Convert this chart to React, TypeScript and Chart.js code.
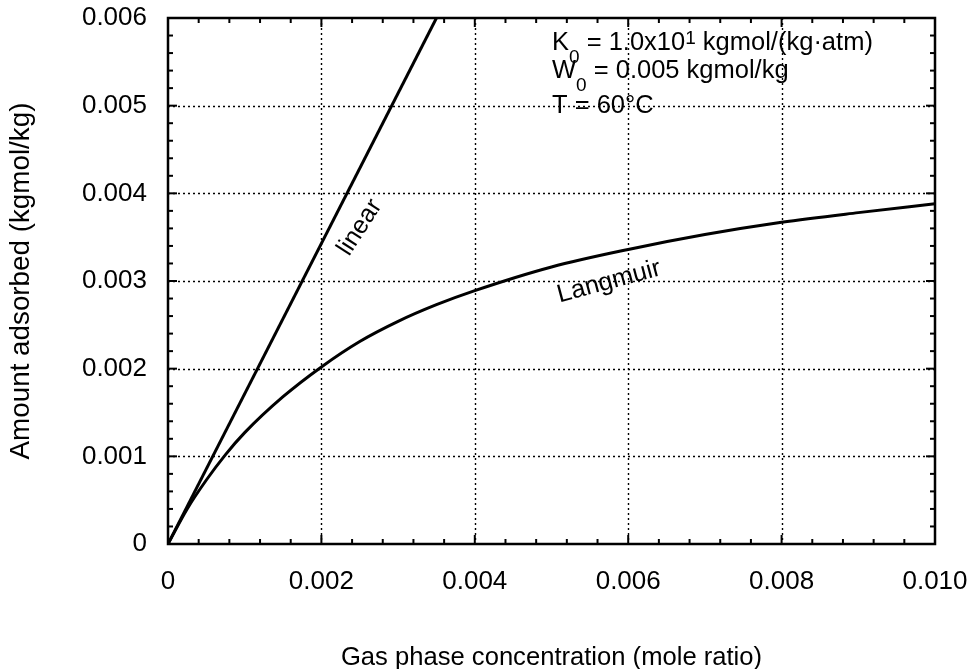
import React, { useEffect, useRef } from "react";
import { Chart, registerables } from "chart.js";

Chart.register(...registerables);

// ---- data ----
const LANGMUIR_X = [0, 0.00025, 0.0005, 0.00075, 0.001, 0.0015, 0.002, 0.0025, 0.003, 0.0035, 0.004, 0.005, 0.006, 0.007, 0.008, 0.009, 0.010];
const LANGMUIR_Y = [0, 0.0004, 0.00073, 0.00102, 0.00127, 0.00168, 0.00202, 0.00231, 0.00254, 0.00273, 0.00289, 0.00316, 0.00336, 0.00353, 0.00367, 0.00378, 0.00388];
const LINEAR_X = [0, 0.0035];
const LINEAR_Y = [0, 0.006];

const X_MIN = 0, X_MAX = 0.01, X_STEP = 0.002, X_MINOR = 0.0004;
const Y_MIN = 0, Y_MAX = 0.006, Y_STEP = 0.001, Y_MINOR = 0.0002;

const X_TITLE = "Gas phase concentration (mole ratio)";
const Y_TITLE = "Amount adsorbed (kgmol/kg)";
const FONT = '"Liberation Sans", Arial, Helvetica, sans-serif';

const fmt = (v: number) => (Math.abs(v) < 1e-12 ? "0" : v.toFixed(3));

const decorPlugin = {
  id: "decor",
  beforeDatasetsDraw(chart: any) {
    const { ctx, chartArea: a, scales } = chart;
    const x = scales.x, y = scales.y;
    ctx.save();
    ctx.strokeStyle = "#000";
    ctx.lineWidth = 1.4;
    ctx.setLineDash([2, 3]);
    const nx = Math.round((X_MAX - X_MIN) / X_STEP);
    for (let i = 1; i < nx; i++) {
      const px = Math.round(x.getPixelForValue(X_MIN + i * X_STEP)) + 0.5;
      ctx.beginPath(); ctx.moveTo(px, a.top); ctx.lineTo(px, a.bottom); ctx.stroke();
    }
    const ny = Math.round((Y_MAX - Y_MIN) / Y_STEP);
    for (let i = 1; i < ny; i++) {
      const py = Math.round(y.getPixelForValue(Y_MIN + i * Y_STEP)) + 0.5;
      ctx.beginPath(); ctx.moveTo(a.left, py); ctx.lineTo(a.right, py); ctx.stroke();
    }
    ctx.restore();
  },
  afterDatasetsDraw(chart: any) {
    const { ctx, chartArea: a, scales } = chart;
    const x = scales.x, y = scales.y;
    ctx.save();
    ctx.strokeStyle = "#000";
    ctx.setLineDash([]);
    ctx.lineWidth = 2.5;
    ctx.strokeRect(a.left, a.top, a.right - a.left, a.bottom - a.top);
    ctx.lineWidth = 2;
    const nxm = Math.round((X_MAX - X_MIN) / X_MINOR);
    const xPer = Math.round(X_STEP / X_MINOR);
    for (let i = 1; i < nxm; i++) {
      const px = x.getPixelForValue(X_MIN + i * X_MINOR);
      const len = i % xPer === 0 ? 9 : 5;
      ctx.beginPath(); ctx.moveTo(px, a.bottom); ctx.lineTo(px, a.bottom - len); ctx.stroke();
      ctx.beginPath(); ctx.moveTo(px, a.top); ctx.lineTo(px, a.top + len); ctx.stroke();
    }
    const nym = Math.round((Y_MAX - Y_MIN) / Y_MINOR);
    const yPer = Math.round(Y_STEP / Y_MINOR);
    for (let i = 1; i < nym; i++) {
      const py = y.getPixelForValue(Y_MIN + i * Y_MINOR);
      const len = i % yPer === 0 ? 9 : 5;
      ctx.beginPath(); ctx.moveTo(a.left, py); ctx.lineTo(a.left + len, py); ctx.stroke();
      ctx.beginPath(); ctx.moveTo(a.right, py); ctx.lineTo(a.right - len, py); ctx.stroke();
    }

    // annotation block
    ctx.fillStyle = "#000";
    ctx.textBaseline = "alphabetic";
    ctx.textAlign = "left";
    const big = `25.5px ${FONT}`;
    const small = `19px ${FONT}`;
    const runs = (parts: [string, string, number][], x0: number, y0: number) => {
      let cx = x0;
      for (const [t, f, dy] of parts) {
        ctx.font = f;
        ctx.fillText(t, cx, y0 + dy);
        cx += ctx.measureText(t).width;
      }
    };
    const ax = a.left + 384;
    runs([["K", big, 0], ["0", small, 13], [" = 1.0x10", big, 0], ["1", small, -6], [" kgmol/(kg\u00b7atm)", big, 0]], ax, a.top + 32);
    runs([["W", big, 0], ["0", small, 13], [" = 0.005 kgmol/kg", big, 0]], ax, a.top + 60);
    runs([["T = 60\u00b0C", big, 0]], ax, a.top + 95);

    // curve labels
    ctx.textAlign = "center";
    ctx.textBaseline = "middle";
    ctx.save();
    ctx.font = `25px ${FONT}`;
    ctx.translate(x.getPixelForValue(0.0025), y.getPixelForValue(0.00361));
    ctx.rotate(-57 * Math.PI / 180);
    ctx.fillText("linear", 0, 0);
    ctx.restore();
    ctx.save();
    ctx.font = `25.5px ${FONT}`;
    ctx.translate(x.getPixelForValue(0.00575), y.getPixelForValue(0.00299));
    ctx.rotate(-15 * Math.PI / 180);
    ctx.fillText("Langmuir", 0, 0);
    ctx.restore();
    ctx.restore();
  },
};

export default function App() {
  const ref = useRef<HTMLCanvasElement>(null);
  useEffect(() => {
    document.body.style.margin = "0";
    const canvas = ref.current!;
    const chart = new Chart(canvas, {
      type: "scatter",
      data: {
        datasets: [
          {
            label: "linear",
            data: LINEAR_X.map((v, i) => ({ x: v, y: LINEAR_Y[i] })),
            showLine: true,
            borderColor: "#000",
            borderWidth: 3,
            pointRadius: 0,
            tension: 0,
          },
          {
            label: "Langmuir",
            data: LANGMUIR_X.map((v, i) => ({ x: v, y: LANGMUIR_Y[i] })),
            showLine: true,
            borderColor: "#000",
            borderWidth: 3,
            pointRadius: 0,
            cubicInterpolationMode: "monotone",
          },
        ],
      },
      options: {
        responsive: false,
        animation: false,
        layout: { padding: { top: 18, right: 38, left: 0, bottom: 0 } },
        plugins: { legend: { display: false }, tooltip: { enabled: false } },
        scales: {
          x: {
            type: "linear",
            min: X_MIN,
            max: X_MAX,
            afterFit: (s: any) => { s.height = 125; s.paddingLeft = 0; s.paddingRight = 0; },
            grid: { display: false, drawTicks: false },
            border: { display: false },
            ticks: {
              stepSize: X_STEP,
              callback: (v: any) => fmt(Number(v)),
              color: "#000",
              font: { family: FONT, size: 26 },
              padding: 22,
              maxRotation: 0,
            },
            title: {
              display: true,
              text: X_TITLE,
              color: "#000",
              font: { family: FONT, size: 25.6 },
              padding: { top: 0, bottom: -4 },
            },
          },
          y: {
            type: "linear",
            min: Y_MIN,
            max: Y_MAX,
            afterFit: (s: any) => { s.width = 168; s.paddingTop = 0; s.paddingBottom = 0; },
            grid: { display: false, drawTicks: false },
            border: { display: false },
            ticks: {
              stepSize: Y_STEP,
              callback: (v: any) => fmt(Number(v)),
              color: "#000",
              font: { family: FONT, size: 26 },
              padding: 21,
            },
            title: {
              display: true,
              text: Y_TITLE,
              color: "#000",
              font: { family: FONT, size: 27.8 },
              padding: { top: 5, bottom: 0 },
            },
          },
        },
      },
      plugins: [decorPlugin],
    } as any);
    return () => chart.destroy();
  }, []);
  return (
    <div style={{ position: "absolute", left: 0, top: 0, width: 973, height: 669, background: "#fff" }}>
      <canvas ref={ref} width={973} height={669} style={{ width: 973, height: 669, display: "block" }} />
    </div>
  );
}
